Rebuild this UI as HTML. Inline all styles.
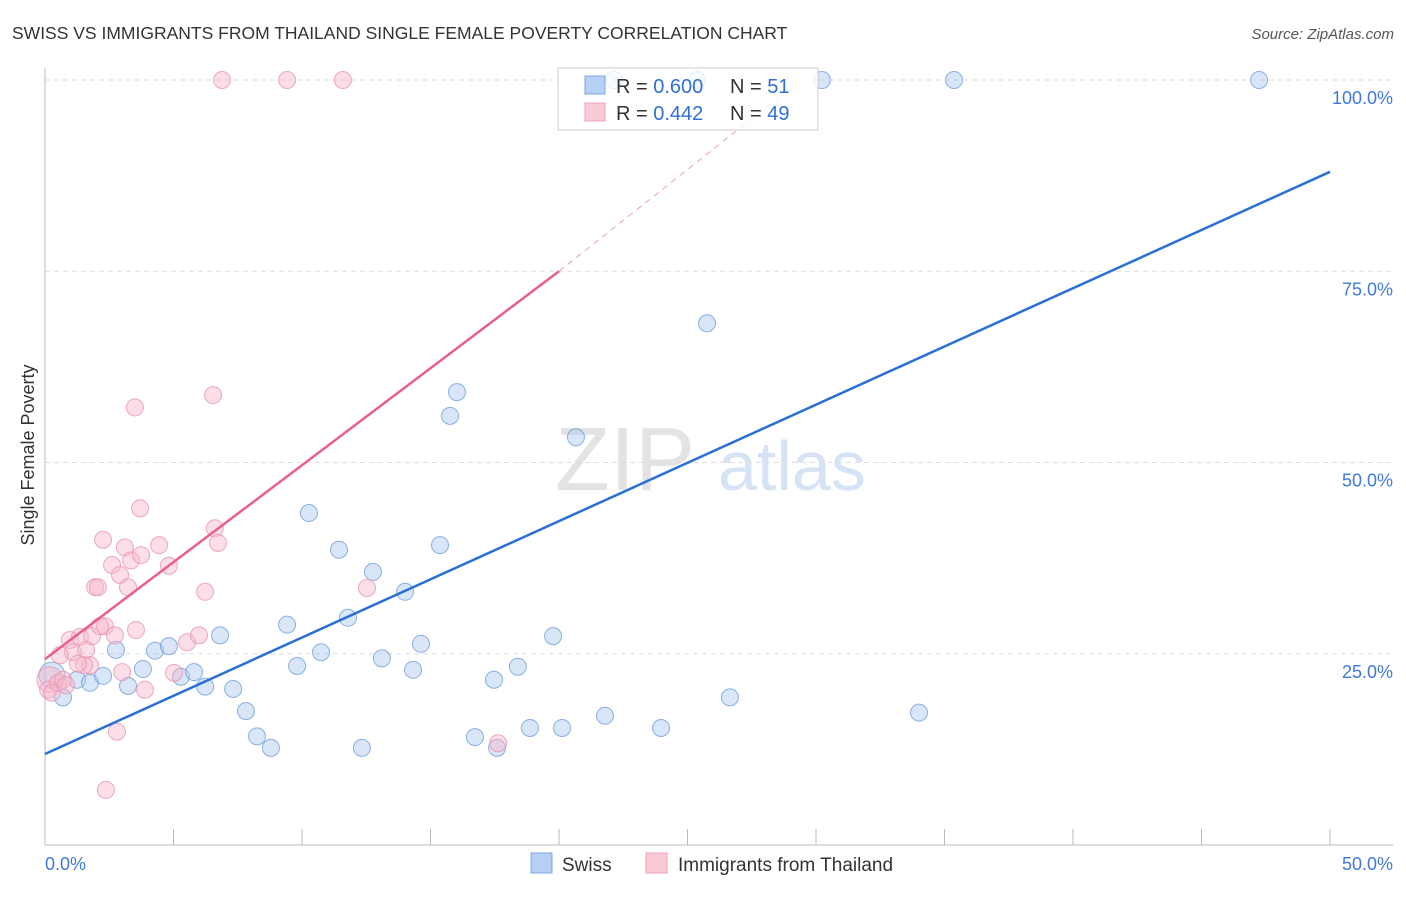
<!DOCTYPE html>
<html><head><meta charset="utf-8"><style>
body{margin:0;background:#fff;font-family:"Liberation Sans",sans-serif;}
svg text{font-family:"Liberation Sans",sans-serif;}
</style></head><body>
<svg id="chart" width="1406" height="892" xmlns="http://www.w3.org/2000/svg">
<text x="12" y="39" font-size="17.5" fill="#333">SWISS VS IMMIGRANTS FROM THAILAND SINGLE FEMALE POVERTY CORRELATION CHART</text>
<text x="1394" y="39" font-size="15" fill="#555" text-anchor="end" font-style="italic">Source: ZipAtlas.com</text>
<text x="555" y="490" font-size="90" fill="#ddd" font-family="Liberation Serif" opacity="0.8">ZIP</text>
<text x="718" y="490" font-size="70" fill="#c5d8f2" opacity="0.7">atlas</text>
<text transform="translate(34,455) rotate(-90)" font-size="18" fill="#333" text-anchor="middle">Single Female Poverty</text>
<g id="grid"></g><g id="pts"></g><g id="lines"></g>
<g>
<rect x="558" y="68" width="260" height="62" fill="#fff" fill-opacity="0.8" stroke="#ccc"/>
<rect x="585" y="76" width="20" height="18" fill="#b6d0f5" stroke="#7aa6e0"/>
<rect x="585" y="103" width="20" height="18" fill="#fbcad7" stroke="#eea0b8"/>
<text x="616" y="93" font-size="20" fill="#333">R = <tspan fill="#2f6fd6">0.600</tspan></text>
<text x="730" y="93" font-size="20" fill="#333">N = <tspan fill="#2f6fd6"> 51</tspan></text>
<text x="616" y="120" font-size="20" fill="#333">R = <tspan fill="#2f6fd6"> 0.442</tspan></text>
<text x="730" y="120" font-size="20" fill="#333">N = <tspan fill="#2f6fd6">49</tspan></text>
</g>
<g>
<rect x="531" y="853" width="21" height="20" fill="#b6d0f5" stroke="#7aa6e0"/>
<text x="562" y="871" font-size="19" fill="#333">Swiss</text>
<rect x="646" y="853" width="21" height="20" fill="#fbcad7" stroke="#eea0b8"/>
<text x="678" y="871" font-size="19" fill="#333">Immigrants from Thailand</text>
</g>
</svg>
<script>
const swissX=[0.27,0.70,1.25,1.75,2.26,2.76,3.23,3.81,4.28,4.82,5.29,5.80,6.23,6.81,7.32,7.82,8.25,8.79,9.42,9.81,10.27,10.74,11.44,12.33,12.76,13.11,14.01,14.32,14.63,15.37,15.76,16.03,16.73,17.47,17.59,18.40,18.87,19.77,20.12,20.66,21.79,23.97,25.76,26.65,34.01,22.14,25.37,30.23,35.37,47.24,11.79];
const swissY=[22.2,19.3,21.6,21.2,22.1,25.5,20.8,23.0,25.4,26.0,22.0,22.6,20.7,27.4,20.4,17.5,14.2,12.7,28.8,23.4,43.4,25.2,38.6,12.7,35.7,24.4,33.1,22.9,26.3,39.2,56.1,59.2,14.1,21.6,12.7,23.3,15.3,27.3,15.3,53.3,16.9,15.3,68.2,19.3,17.3,100,100,100,100,100,29.7];
const thaiX=[0.19,0.12,0.27,0.51,0.70,0.97,1.09,1.36,1.60,1.75,1.83,1.95,2.06,2.26,2.33,2.61,2.72,2.92,3.11,3.23,3.35,3.50,3.54,3.70,3.74,3.89,2.80,2.37,3.00,4.44,4.82,5.02,5.53,5.99,6.23,6.54,6.61,6.73,6.89,9.42,11.59,12.53,17.63,1.52,0.82,0.58,1.28,2.14];
const thaiY=[21.6,20.3,19.9,21.2,21.6,26.8,25.2,27.2,25.5,23.5,27.3,33.7,33.7,39.9,28.6,36.6,27.4,35.3,38.9,33.7,37.2,57.2,28.1,44.0,37.9,20.3,14.8,7.2,22.6,39.2,36.5,22.5,26.5,27.4,33.1,58.8,41.4,39.5,100,100,100,33.6,13.3,23.5,20.9,24.8,23.7,28.6];
const yTicks=[25,50,75,100];
const yTickLabels=["25.0%","50.0%","75.0%","100.0%"];
const xTickLabels=["0.0%","50.0%"];
const swissTrend=[[0,11.9],[50,88.0]];
const thaiTrend=[[0,24.3],[20,75.0]];
const thaiTrendExt=[[20,75.0],[29.4,100]];
const NS="http://www.w3.org/2000/svg";
const sx=v=>45+v/50*1285, sy=v=>845-v/100*765;
function mk(tag,attrs,parent){const e=document.createElementNS(NS,tag);for(const k in attrs)e.setAttribute(k,attrs[k]);document.getElementById(parent).appendChild(e);return e;}
yTicks.forEach((t,i)=>{
 const l=mk('line',{x1:45,x2:1393,y1:sy(t),y2:sy(t),stroke:'#ddd','stroke-dasharray':'5,4'},'grid');
 
 
 const tx=mk('text',{x:1393,y:sy(t)+24,'font-size':18,fill:'#3f7ad8','text-anchor':'end'},'grid');tx.textContent=yTickLabels[i];
 
 
});
const ax=mk('line',{x1:45,x2:45,y1:68,y2:845,stroke:'#bbb'},'grid');


const bx=mk('line',{x1:45,x2:1393,y1:845,y2:845,stroke:'#bbb'},'grid');


for(let i=0;i<=10;i++){const t=mk('line',{x1:sx(i*5),x2:sx(i*5),y1:829,y2:845,stroke:'#bbb'},'grid');
 
 }
[[0,'start',45],[50,'end',1393]].forEach((d,i)=>{const t=mk('text',{x:d[2],y:870,'font-size':18,fill:'#3f7ad8','text-anchor':d[1]},'grid');t.textContent=xTickLabels[i];
 
 });
function dots(X,Y,fill,stroke,name){X.forEach((x,i)=>{const r=(i===0)?13:8.5;const c=mk('circle',{cx:sx(x),cy:sy(Y[i]),r:r,fill:fill,'fill-opacity':0.45,stroke:stroke,'stroke-opacity':0.8,'stroke-width':1},'pts');
 
 });}
dots(swissX,swissY,'#a9c8f0','#6f9fdc','swiss-point');
dots(thaiX,thaiY,'#f7b6ca','#e995b0','thailand-point');
function ln(p,col,w,dash,name){const a={x1:sx(p[0][0]),y1:sy(p[0][1]),x2:sx(p[1][0]),y2:sy(p[1][1]),stroke:col,'stroke-width':w};if(dash)a['stroke-dasharray']=dash;const l=mk('line',a,'lines');
 
 }
ln(swissTrend,'#2a6fd6',2.5,null,'swiss-trendline');
ln(thaiTrend,'#e8608a',2.5,null,'thailand-trendline');
ln(thaiTrendExt,'#e8a0b6',1,'6,5','thailand-trendline-extension');
</script>
</body></html>
